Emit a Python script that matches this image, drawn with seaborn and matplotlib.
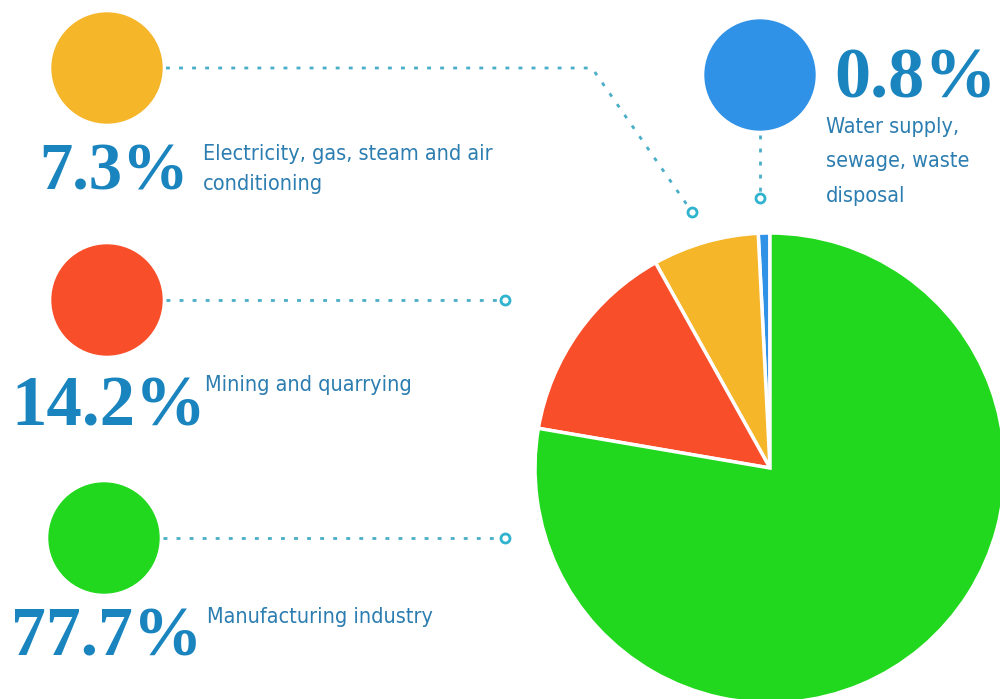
import matplotlib.pyplot as plt
from matplotlib.patches import Circle
import seaborn as sns

# shares of industrial output, %
sectors = ["Water supply,\nsewage, waste\ndisposal",
           "Electricity, gas, steam and air\nconditioning",
           "Mining and quarrying",
           "Manufacturing industry"]
shares = [0.8, 7.3, 14.2, 77.7]
pct_labels = ["0.8%", "7.3%", "14.2%", "77.7%"]
colors = ["#3092E6", "#F5B62A", "#F94E2A", "#22D81E"]

W, H = 1000, 699
PCT_COLOR = "#1A84BE"
TXT_COLOR = "#2C7DB0"
LINE_COLOR = "#4AAEC8"

sns.set_theme(style="white")

fig = plt.figure(figsize=(W / 100, H / 100), dpi=100)
ax = fig.add_axes([0, 0, 1, 1])
ax.set_xlim(0, W)
ax.set_ylim(0, H)
ax.set_aspect("equal")
ax.axis("off")


def Y(py):
    return H - py


# the pie, partly cut off by the figure edge
ax.pie(shares, colors=colors, startangle=90, counterclock=True,
       center=(770, Y(468)), radius=235,
       wedgeprops=dict(edgecolor="white", linewidth=2.5))
ax.set_xlim(0, W)
ax.set_ylim(0, H)

# legend bubbles
bubbles = [(760, 75), (107, 68), (107, 300), (104, 538)]
for (cx, cy), c in zip(bubbles, colors):
    ax.add_patch(Circle((cx, Y(cy)), 55, color=c, zorder=3))

# dotted leader lines
dots = dict(color=LINE_COLOR, lw=2, ls=(0, (1.4, 3.3)), zorder=2)
leaders = [
    [(760, 135), (760, 198)],
    [(166, 68), (592, 68), (692, 212)],
    [(166, 300), (505, 300)],
    [(163, 538), (505, 538)],
]
for pts in leaders:
    xs = [p[0] for p in pts]
    ys = [Y(p[1]) for p in pts]
    ax.plot(xs, ys, **dots)
    ax.plot(xs[-1], ys[-1], "o", ms=6.5, mfc="white", mec="#2FB3CF", mew=2, zorder=4)

# big percentages
pct_font = dict(family="Liberation Serif", weight="bold", color=PCT_COLOR)
pct_pos = [(834, 97, 52), (39, 189, 48), (11, 425, 51), (11, 656, 50)]
for lab, (x, y, fs) in zip(pct_labels, pct_pos):
    ax.text(x, Y(y), lab, fontsize=fs, ha="left", va="baseline", **pct_font)

# sector names
txt_font = dict(family="DejaVu Sans", stretch="condensed", color=TXT_COLOR)
txt_pos = [(826, 117, 1.9), (203, 144, 1.62), (205, 375, 1.6), (207, 607, 1.6)]
for lab, (x, y, lsp) in zip(sectors, txt_pos):
    ax.text(x, Y(y), lab, fontsize=15.5, ha="left", va="top",
            linespacing=lsp, **txt_font)

fig.savefig("out.png", dpi=100)
